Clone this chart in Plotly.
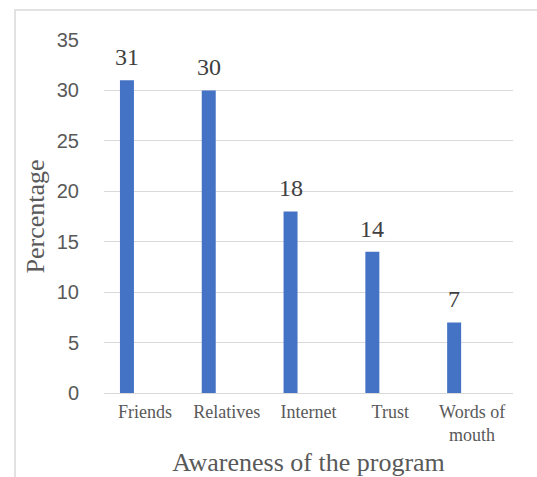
import plotly.graph_objects as go

categories = ["Friends", "Relatives", "Internet", "Trust", "Words of<br>mouth"]
percentages = [31, 30, 18, 14, 7]
y_ticks = [0, 5, 10, 15, 20, 25, 30, 35]

bar_color = "#4472C4"
grey_text = "#595959"
serif = "Liberation Serif, Times New Roman, serif"
sans = "Liberation Sans, Arial, sans-serif"

# bars sit left of each category centre (clustered-column layout)
bar_offset = -0.305
bar_width = 0.171
label_shift_px = -18

fig = go.Figure()
fig.add_trace(go.Bar(
    x=categories,
    y=percentages,
    marker=dict(color=bar_color, line=dict(width=0)),
    width=bar_width,
    offset=bar_offset,
    hoverinfo="skip",
))

# value labels above each bar
for cat, val in zip(categories, percentages):
    fig.add_annotation(
        x=cat, y=val, text=str(val), showarrow=False,
        yanchor="bottom", yshift=8, xshift=label_shift_px,
        font=dict(family=serif, size=24, color="#404040"),
    )

# light chart frame
fig.add_shape(
    type="rect", xref="paper", yref="paper",
    x0=-0.2176, x1=1.2, y0=-0.4, y1=1.085,
    line=dict(color="#d9d9d9", width=1.5), fillcolor="rgba(0,0,0,0)",
    layer="below",
)

fig.update_layout(
    width=537, height=477,
    margin=dict(l=104, r=24, t=40, b=84),
    paper_bgcolor="white", plot_bgcolor="white",
    showlegend=False,
    xaxis=dict(
        automargin=False,
        showgrid=False, showline=False, ticks="",
        ticklabelstandoff=6,
        tickfont=dict(family=serif, size=18, color=grey_text),
        title=dict(text="Awareness of the program",
                   font=dict(family=serif, size=26, color=grey_text),
                   standoff=8),
    ),
    yaxis=dict(
        automargin=False,
        range=[0, 35], tickvals=y_ticks,
        showgrid=True, gridcolor="#d9d9d9", gridwidth=1,
        zeroline=True, zerolinecolor="#d9d9d9", zerolinewidth=1,
        showline=False, ticks="",
        ticklabelstandoff=24,
        tickfont=dict(family=sans, size=20, color=grey_text),
        title=dict(text="Percentage",
                   font=dict(family=serif, size=26, color=grey_text),
                   standoff=4),
    ),
)

fig.write_html("out.html")
